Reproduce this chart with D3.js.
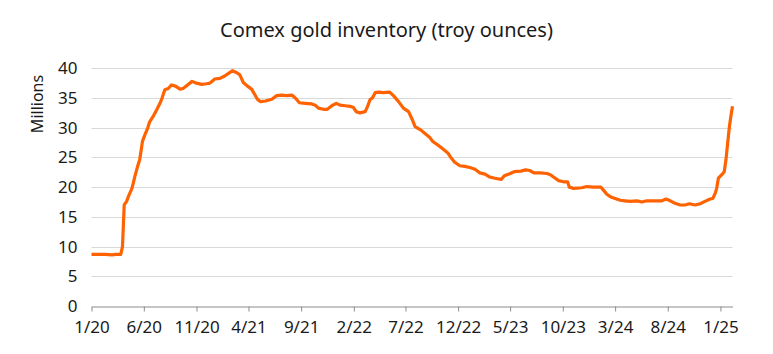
<!DOCTYPE html>
<html>
<head>
<meta charset="utf-8">
<script src="https://cdn.jsdelivr.net/npm/d3@7"></script>
<style>
  html, body { margin: 0; padding: 0; background: #fff; }
  svg { display: block; font-family: "Noto Sans", sans-serif; }
</style>
</head>
<body>
<svg id="chart" width="773" height="354"></svg>
<script>
// ---- Data ----
const title = "Comex gold inventory (troy ounces)";
const yAxisLabel = "Millions";
const xTickLabels = ["1/20","6/20","11/20","4/21","9/21","2/22","7/22","12/22","5/23","10/23","3/24","8/24","1/25"];
const yTicks = [0, 5, 10, 15, 20, 25, 30, 35, 40];
const dates = [
  "2020-01-01","2020-02-10","2020-03-01","2020-03-11","2020-03-26","2020-03-31","2020-04-05","2020-04-12","2020-04-17","2020-04-23",
  "2020-04-27","2020-05-01","2020-05-06","2020-05-14","2020-05-20","2020-05-25","2020-05-28","2020-06-04","2020-06-12","2020-06-18",
  "2020-06-28","2020-07-08","2020-07-18","2020-07-24","2020-08-01","2020-08-11","2020-08-20","2020-09-01","2020-09-14","2020-09-23",
  "2020-10-06","2020-10-19","2020-11-01","2020-11-16","2020-11-30","2020-12-10","2020-12-24","2021-01-08","2021-01-22","2021-02-01",
  "2021-02-13","2021-02-25","2021-03-07","2021-03-17","2021-03-29","2021-04-10","2021-04-20","2021-04-27","2021-05-05","2021-05-20",
  "2021-06-08","2021-06-22","2021-07-07","2021-07-21","2021-08-05","2021-08-15","2021-08-27","2021-09-13","2021-10-02","2021-10-12",
  "2021-10-21","2021-11-05","2021-11-16","2021-11-29","2021-12-12","2021-12-23","2022-01-07","2022-01-21","2022-01-31","2022-02-08",
  "2022-02-19","2022-03-06","2022-03-13","2022-03-20","2022-03-28","2022-04-04","2022-04-14","2022-04-28","2022-05-16","2022-05-27",
  "2022-06-11","2022-06-25","2022-07-10","2022-07-19","2022-07-29","2022-08-15","2022-08-25","2022-09-09","2022-09-18","2022-10-03",
  "2022-10-18","2022-11-02","2022-11-11","2022-11-21","2022-12-06","2022-12-20","2023-01-04","2023-01-19","2023-02-02","2023-02-17",
  "2023-03-03","2023-03-18","2023-04-05","2023-04-14","2023-04-28","2023-05-13","2023-06-01","2023-06-15","2023-06-27","2023-07-09",
  "2023-07-28","2023-08-16","2023-08-26","2023-09-04","2023-09-19","2023-10-03","2023-10-15","2023-10-20","2023-11-01","2023-11-25",
  "2023-12-10","2023-12-29","2024-01-20","2024-01-27","2024-02-06","2024-02-16","2024-03-01","2024-03-16","2024-03-30","2024-04-14",
  "2024-05-03","2024-05-18","2024-06-01","2024-06-30","2024-07-15","2024-07-27","2024-08-08","2024-08-22","2024-09-06","2024-09-20",
  "2024-10-03","2024-10-19","2024-11-03","2024-11-17","2024-12-02","2024-12-10","2024-12-17","2024-12-21","2024-12-26","2025-01-05",
  "2025-01-12","2025-01-17","2025-01-22","2025-01-27","2025-02-01","2025-02-05"
];
const inventory = [
  8.7, 8.7, 8.6, 8.7, 8.7, 10.0, 17.0, 17.6, 18.4, 19.2,
  19.7, 20.6, 21.8, 23.5, 24.6, 26.5, 27.7, 28.8, 29.9, 31.0,
  31.9, 33.0, 34.1, 35.0, 36.4, 36.6, 37.2, 37.0, 36.5, 36.6,
  37.2, 37.8, 37.5, 37.3, 37.4, 37.5, 38.2, 38.3, 38.7, 39.1,
  39.6, 39.3, 38.9, 37.6, 37.0, 36.5, 35.5, 34.8, 34.4, 34.5,
  34.8, 35.4, 35.5, 35.4, 35.5, 35.0, 34.2, 34.1, 34.0, 33.8,
  33.3, 33.1, 33.1, 33.7, 34.1, 33.8, 33.7, 33.6, 33.4, 32.7,
  32.5, 32.7, 33.6, 34.7, 35.1, 35.9, 36.0, 35.9, 36.0, 35.4,
  34.4, 33.3, 32.7, 31.6, 30.2, 29.6, 29.1, 28.4, 27.7, 27.1,
  26.4, 25.7, 24.9, 24.2, 23.6, 23.5, 23.3, 23.0, 22.4, 22.2,
  21.7, 21.5, 21.3, 21.9, 22.2, 22.6, 22.7, 22.9, 22.8, 22.4,
  22.4, 22.3, 22.1, 21.7, 21.1, 20.9, 20.9, 20.0, 19.8, 19.9,
  20.1, 20.0, 20.0, 19.5, 18.8, 18.4, 18.1, 17.8, 17.7, 17.6,
  17.7, 17.5, 17.7, 17.7, 17.7, 18.0, 17.7, 17.3, 17.0, 17.0,
  17.2, 17.0, 17.2, 17.6, 18.0, 18.1, 19.0, 19.8, 21.5, 22.1,
  22.6, 24.6, 27.4, 30.2, 32.2, 33.6
];
const xDomainStart = "2020-01-01";
const xDomainEnd = "2025-02-05";

// ---- Drawing ----
const parse = d3.utcParse("%Y-%m-%d");
const parseTick = d3.utcParse("%m/%y");
const data = dates.map((d, i) => ({ date: parse(d), value: inventory[i] }));

const svg = d3.select("#chart");
const plotLeft = 91.5, plotRight = 732.5, plotTop = 68.3, plotBottom = 306;

const x = d3.scaleUtc().domain([parse(xDomainStart), parse(xDomainEnd)]).range([plotLeft, plotRight]);
const y = d3.scaleLinear().domain([0, 40]).range([plotBottom, plotTop]);

// Title
svg.append("text")
  .attr("x", 386.5).attr("y", 37)
  .attr("text-anchor", "middle")
  .attr("font-size", 20).attr("fill", "#1a1a1a")
  .text(title);

// Gridlines
svg.append("g")
  .selectAll("line")
  .data(yTicks.filter(v => v > 0))
  .join("line")
  .attr("x1", plotLeft).attr("x2", plotRight)
  .attr("y1", d => Math.round(y(d)) + 0.5).attr("y2", d => Math.round(y(d)) + 0.5)
  .attr("stroke", "#d9d9d9").attr("stroke-width", 1);

// Y axis labels
const yAxis = d3.axisLeft(y).tickValues(yTicks).tickSize(0).tickPadding(14);
const gy = svg.append("g").attr("transform", `translate(${plotLeft},0)`).call(yAxis);
gy.select(".domain").remove();
gy.selectAll("text").attr("font-size", 17).attr("fill", "#1a1a1a").attr("font-family", "Noto Sans, sans-serif");

// Y axis title
svg.append("text")
  .attr("transform", "translate(43,104) rotate(-90)")
  .attr("text-anchor", "middle")
  .attr("font-size", 16).attr("fill", "#1a1a1a")
  .text(yAxisLabel);

// X axis
const tickDates = xTickLabels.map(t => parseTick(t));
const xAxis = d3.axisBottom(x)
  .tickValues(tickDates)
  .tickFormat((d, i) => xTickLabels[i])
  .tickSize(5).tickSizeOuter(0).tickPadding(9);
const gx = svg.append("g").attr("transform", `translate(0,${Math.round(plotBottom) + 0.5})`).call(xAxis);
gx.select(".domain").attr("stroke", "#8c8c8c");
gx.selectAll(".tick line").attr("stroke", "#8c8c8c");
gx.selectAll("text").attr("font-size", 17).attr("fill", "#1a1a1a").attr("font-family", "Noto Sans, sans-serif");

// Line
const line = d3.line().x(d => x(d.date)).y(d => y(d.value)).curve(d3.curveLinear);
svg.append("path")
  .datum(data)
  .attr("fill", "none")
  .attr("stroke", "#ff6200")
  .attr("stroke-width", 3.2)
  .attr("stroke-linejoin", "round")
  .attr("stroke-linecap", "butt")
  .attr("d", line);
</script>
</body>
</html>
